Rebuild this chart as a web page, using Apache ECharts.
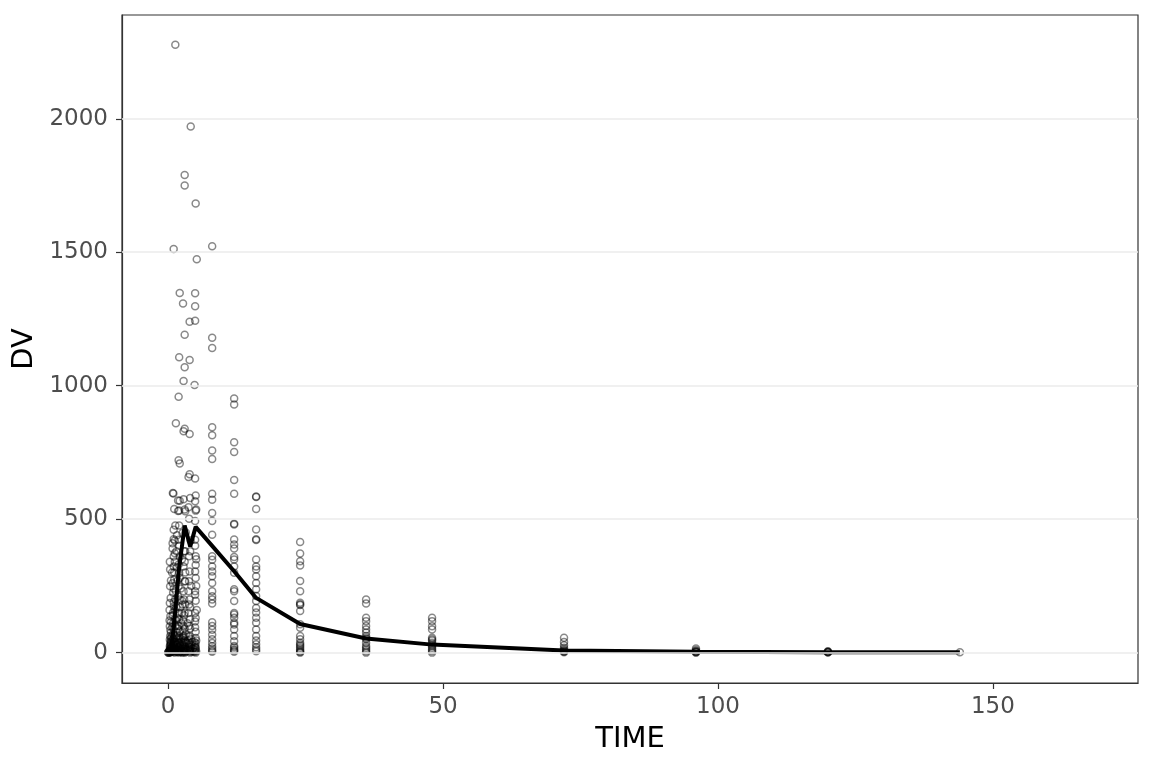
<!DOCTYPE html>
<html lang="en">
<head>
    <meta charset="UTF-8">
    <title>DV vs TIME</title>
    <script src="https://cdn.jsdelivr.net/npm/echarts@6/dist/echarts.min.js"></script>
    <style>
        html, body { margin: 0; padding: 0; background: #fff; }
    </style>
</head>
<body>
<div id="main" style="width: 1152px;height:768px"></div>
<script>
    // observations before 6 h: actual sampling times spread around nominal
    const earlyObs = [
        [1.3, 2277], [4.1, 1971], [3.0, 1789], [3.0, 1750], [5.0, 1683], [1.0, 1512], [5.2, 1474],
        [2.1, 1347], [4.9, 1346], [2.7, 1308], [4.9, 1298], [3.9, 1240], [4.9, 1243], [3.0, 1191],
        [2.0, 1107], [3.9, 1096], [3.0, 1069], [2.8, 1018], [4.8, 1003], [1.9, 959], [1.4, 859],
        [3.0, 839], [2.8, 829], [3.9, 819],
        [0.35, 311], [0.35, 249], [0.3, 186], [0.4, 136], [0.3, 99], [0.35, 62], [0.3, 24], [0.4, 5],
        [0.25, 0], [0.5, 2], [0.3, 10], [0.45, 40], [0.5, 15], [0.25, 3], [0.5, 75], [0.25, 160],
        [0, 0], [0, 1], [0.1, 0],
        [0.85, 598], [0.95, 596], [1.1, 538], [1.3, 476], [1.0, 425], [0.8, 410], [1.2, 372],
        [1.0, 323], [1.1, 274], [0.9, 224], [1.0, 174], [1.2, 124], [1.0, 87], [0.9, 50], [1.1, 12],
        [1.0, 30], [1.0, 5], [1.2, 0], [0.9, 150], [1.3, 200], [1.2, 340], [0.8, 390],
        [1.9, 721], [2.1, 709], [1.8, 570], [1.8, 531], [2.1, 569], [2.0, 532], [2.0, 476], [1.9, 423],
        [2.1, 361], [2.0, 298], [1.9, 249], [2.1, 199], [2.0, 148], [1.9, 100], [2.0, 62], [2.1, 25],
        [2.0, 10], [1.8, 40], [2.2, 3], [1.7, 270], [1.6, 440], [1.5, 380], [1.5, 120], [1.6, 20],
        [2.8, 575], [3.0, 536], [2.6, 448], [2.9, 380], [2.8, 323], [3.0, 267], [2.9, 199], [3.0, 148],
        [2.8, 100], [2.9, 62], [3.0, 25], [3.1, 530], [3.1, 380], [3.1, 267], [2.5, 195], [2.5, 148],
        [3.0, 5], [2.7, 40], [3.2, 450], [3.1, 300], [2.6, 80], [3.2, 12],
        [3.9, 668], [3.7, 658], [4.0, 579], [3.7, 545], [3.8, 502], [4.0, 380], [3.8, 361], [3.9, 304],
        [3.8, 267], [3.7, 230], [3.9, 199], [3.7, 148], [3.8, 100], [3.9, 62], [3.8, 37], [3.9, 12],
        [4.0, 3], [4.1, 420], [4.2, 250], [4.0, 170],
        [4.9, 652], [5.0, 589], [4.9, 567], [5.1, 536], [5.0, 532], [4.9, 493], [4.9, 423], [4.9, 400],
        [5.0, 361], [5.0, 328], [4.9, 304], [5.0, 280], [4.9, 230], [4.9, 217], [5.0, 194], [4.9, 148],
        [4.9, 117], [5.0, 78], [5.0, 55], [4.9, 27], [5.0, 15], [5.1, 5], [5.0, 0], [5.1, 350], [5.2, 160]
    ]

    // the dense low band under the rising part of the curve
    const earlyLow = [
        [0.25, 1], [0.3, 4], [0.35, 8], [0.4, 18], [0.45, 28], [0.5, 35], [0.3, 48], [0.5, 55], [0.4, 85],
        [0.5, 115], [0.25, 120], [0.45, 205], [0.5, 270], [0.3, 340], [0.6, 8], [0.6, 22], [0.7, 3],
        [0.75, 45], [0.75, 95], [0.8, 140], [0.8, 260], [0.7, 300], [0.9, 15], [0.9, 70], [0.9, 110],
        [1.0, 190], [1.0, 240], [1.0, 360], [1.0, 460], [1.1, 2], [1.1, 40], [1.1, 65], [1.1, 300],
        [1.2, 20], [1.2, 160], [1.2, 420], [1.3, 8], [1.3, 100], [1.4, 55], [1.4, 230], [1.5, 3],
        [1.5, 30], [1.5, 170], [1.6, 75], [1.6, 320], [1.7, 12], [1.7, 130], [1.8, 2], [1.8, 90],
        [1.8, 210], [1.9, 18], [1.9, 55], [1.9, 330], [2.0, 0], [2.0, 35], [2.0, 125], [2.0, 400],
        [2.1, 80], [2.1, 280], [2.2, 15], [2.2, 170], [2.3, 50], [2.3, 240], [2.4, 8], [2.4, 110],
        [2.5, 30], [2.5, 350], [2.6, 0], [2.6, 180], [2.7, 15], [2.7, 120], [2.8, 55], [2.8, 230],
        [2.9, 5], [2.9, 140], [3.0, 0], [3.0, 45], [3.0, 90], [3.0, 340], [3.1, 20], [3.1, 180],
        [3.2, 70], [3.3, 5], [3.4, 35], [3.5, 110], [3.6, 15], [3.7, 60], [3.8, 8], [3.8, 180],
        [3.9, 30], [4.0, 0], [4.0, 90], [4.0, 125], [4.1, 20], [4.2, 50], [4.3, 5], [4.5, 15],
        [4.8, 3], [4.8, 40], [4.9, 10], [4.9, 95], [5.0, 20], [5.0, 130], [5.1, 45], [5.1, 250],
        [0.2, 6], [0.3, 14], [0.4, 30], [0.5, 44], [0.6, 60], [0.7, 20], [0.8, 6], [0.9, 32],
        [1.0, 50], [1.1, 24], [1.2, 7], [1.3, 40], [1.4, 14], [1.5, 60], [1.6, 4], [1.7, 35],
        [1.8, 22], [1.9, 8], [2.0, 48], [2.1, 4], [2.2, 30], [2.3, 10], [2.4, 42], [2.5, 2],
        [2.6, 24], [2.7, 60], [2.8, 8], [2.9, 36], [3.0, 14], [3.1, 2], [3.2, 40], [3.4, 10],
        [3.6, 45], [3.8, 22], [4.0, 10], [4.2, 30], [4.4, 40], [4.6, 4], [4.8, 20], [5.0, 35]
    ]

    // later observations, one list per nominal time
    const dv8 = [1522, 1180, 1141, 844, 814, 757, 725, 595, 573, 523, 493, 442, 361, 348, 323, 304, 286,
        261, 230, 211, 199, 184, 114, 100, 86, 67, 50, 36, 24, 15, 8, 3]
    const dv12 = [952, 930, 788, 752, 647, 595, 483, 480, 424, 405, 390, 358, 349, 323, 299, 237, 230,
        193, 148, 143, 131, 112, 105, 87, 62, 43, 25, 19, 12, 8, 3]
    const dv16 = [585, 583, 538, 461, 425, 422, 349, 323, 311, 286, 261, 237, 212, 193, 167, 150, 131,
        112, 87, 62, 45, 31, 20, 12, 5]
    const dv24 = [414, 371, 342, 326, 268, 230, 187, 181, 178, 156, 106, 93, 62, 50, 37, 30, 25, 18, 12, 6, 2, 0]
    const dv36 = [199, 184, 131, 118, 100, 87, 75, 62, 55, 50, 37, 25, 18, 12, 5, 0]
    const dv48 = [131, 118, 99, 87, 56, 50, 45, 37, 30, 25, 18, 12, 6, 0]
    const dv72 = [56, 40, 28, 18, 12, 8, 5, 3, 1]
    const dv96 = [15, 10, 6, 4, 2, 1, 0]
    const dv120 = [5, 3, 2, 1, 0.5]
    const dv144 = [1]

    // mean profile
    const meanTime = [0, 0.5, 1, 1.5, 2, 3, 4, 5, 8, 12, 16, 24, 36, 48, 72, 96, 120, 144]
    const meanDV = [0, 8, 95, 205, 320, 476, 398, 471, 400, 305, 205, 107, 53, 30, 8, 3, 1.5, 1]

    const xTicks = [0, 50, 100, 150]
    const yTicks = [0, 500, 1000, 1500, 2000]

    const lateGroups = [[8, dv8], [12, dv12], [16, dv16], [24, dv24], [36, dv36], [48, dv48],
        [72, dv72], [96, dv96], [120, dv120], [144, dv144]]
    const obs = earlyObs.concat(earlyLow)
    lateGroups.forEach(function (g) {
        g[1].forEach(function (v) { obs.push([g[0], v]) })
    })
    const meanLine = meanTime.map(function (t, i) { return [t, meanDV[i]] })

    const font = 'DejaVu Sans'
    const plain = function (v) { return String(v) }
    const edge = { show: true, onZero: false, lineStyle: { color: '#333333', width: 1.2 } }
    const tick = { show: true, length: 6, lineStyle: { color: '#333333', width: 1.2 } }
    const myChart = echarts.init(document.getElementById('main'))
    const option = {
        backgroundColor: '#fff',
        animation: false,
        grid: {
            left: 122, right: 14, top: 15, bottom: 85,
            show: true, borderColor: '#333333', borderWidth: 1.2, backgroundColor: '#fff'
        },
        xAxis: {
            type: 'value',
            min: -8.4,
            max: 176.4,
            name: 'TIME',
            nameLocation: 'middle',
            nameGap: 42,
            nameTextStyle: { color: '#000', fontSize: 29, fontFamily: font },
            axisLine: edge,
            axisTick: Object.assign({ customValues: xTicks }, tick),
            axisLabel: { color: '#4d4d4d', fontSize: 23, fontFamily: font, margin: 13, customValues: xTicks, formatter: plain },
            splitLine: { show: false }
        },
        yAxis: {
            type: 'value',
            min: -113.8,
            max: 2388.8,
            name: 'DV',
            nameLocation: 'middle',
            nameGap: 79,
            nameTextStyle: { color: '#000', fontSize: 29, fontFamily: font },
            axisLine: edge,
            axisTick: Object.assign({ customValues: yTicks }, tick),
            axisLabel: { color: '#4d4d4d', fontSize: 23, fontFamily: font, margin: 14, customValues: yTicks, formatter: plain },
            splitLine: { show: false }
        },
        series: [
            {
                type: 'line',
                data: [],
                silent: true,
                markLine: {
                    silent: true,
                    symbol: 'none',
                    label: { show: false },
                    lineStyle: { color: '#ebebeb', width: 1.5, type: 'solid' },
                    data: yTicks.map(function (v) { return { yAxis: v } })
                },
                z: 1
            },
            {
                type: 'scatter',
                data: obs,
                symbol: 'circle',
                symbolSize: 7,
                itemStyle: { color: 'rgba(0,0,0,0)', borderColor: 'rgba(0,0,0,0.58)', borderWidth: 1.5 },
                z: 2
            },
            {
                type: 'line',
                data: meanLine,
                showSymbol: false,
                lineStyle: { color: '#000', width: 4 },
                z: 3
            }
        ]
    };
    myChart.setOption(option);
</script>
</body>
</html>
